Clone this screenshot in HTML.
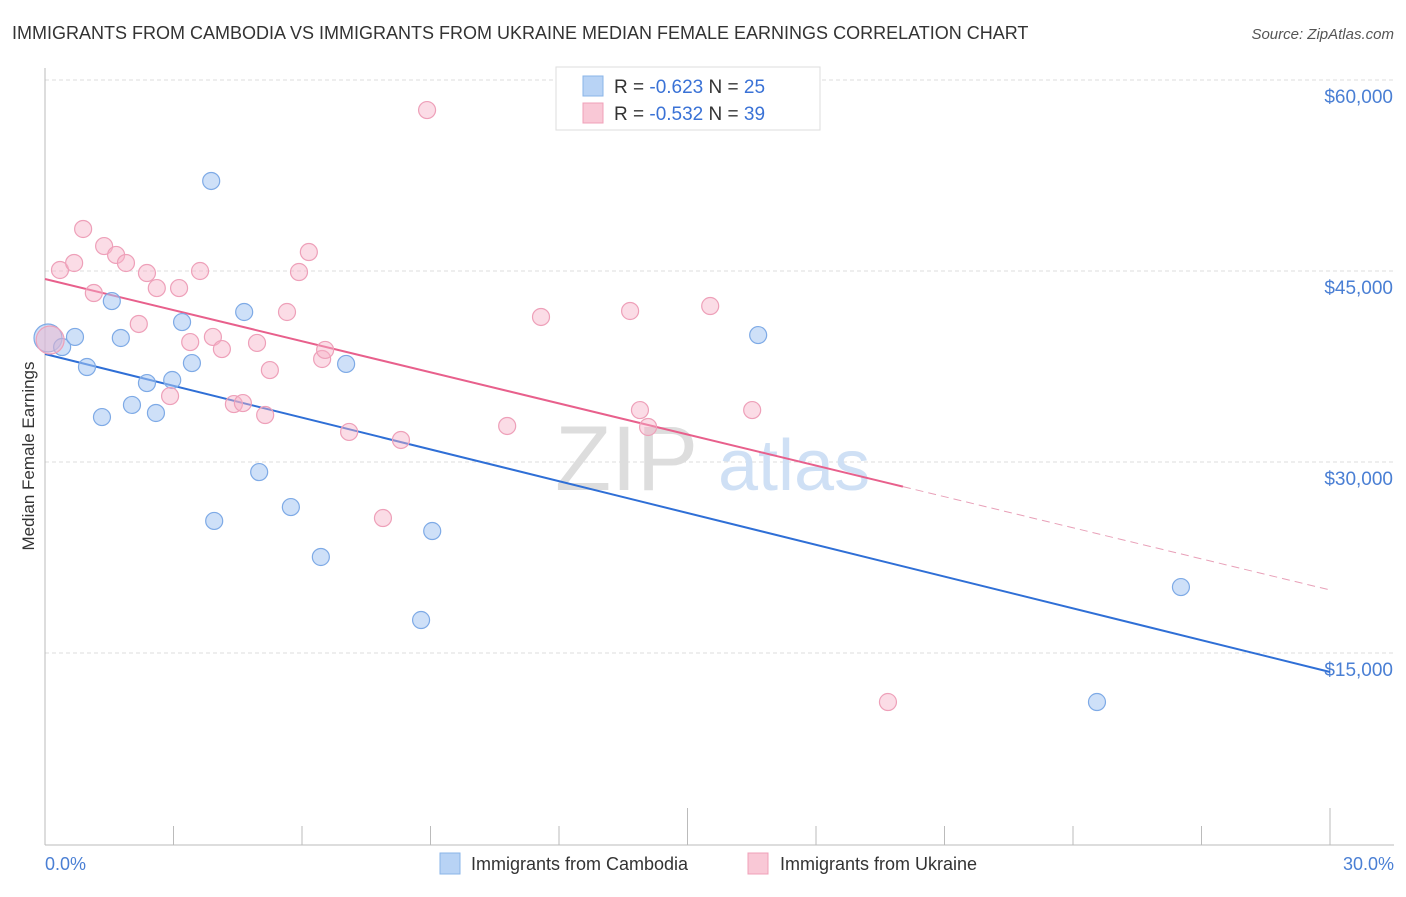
<!DOCTYPE html>
<html><head><meta charset="utf-8"><style>
body{margin:0;background:#fff;font-family:"Liberation Sans",sans-serif;}
svg text{font-family:"Liberation Sans",sans-serif;}
</style></head><body>
<svg id="chart" width="1406" height="892" xmlns="http://www.w3.org/2000/svg">
<text x="12" y="39" font-size="18" fill="#333">IMMIGRANTS FROM CAMBODIA VS IMMIGRANTS FROM UKRAINE MEDIAN FEMALE EARNINGS CORRELATION CHART</text>
<text x="1394" y="39" font-size="15" fill="#555" text-anchor="end" font-style="italic">Source: ZipAtlas.com</text>
<g id="grid"></g>
<g><text x="555" y="490" font-size="92" fill="#ddd" font-family="Liberation Serif">ZIP</text><text x="718" y="490" font-size="72" fill="#cfe0f5">atlas</text></g>
<line x1="45" y1="845" x2="1394" y2="845" stroke="#bbb"/>
<line x1="45" y1="68" x2="45" y2="845" stroke="#bbb"/>
<g id="ticks"></g>
<text transform="translate(34,456) rotate(-90)" font-size="17" fill="#333" text-anchor="middle">Median Female Earnings</text>
<text x="45" y="870" font-size="18" fill="#4a7fd4">0.0%</text>
<text x="1394" y="870" font-size="18" fill="#4a7fd4" text-anchor="end">30.0%</text>
<g id="lines"></g>
<g id="points"></g>
<g>
<rect x="556" y="67" width="264" height="63" fill="#fff" stroke="#ddd"/>
<rect x="583" y="76" width="20" height="20" fill="#b8d3f5" stroke="#8ab4e8"/>
<rect x="583" y="103" width="20" height="20" fill="#f9c8d6" stroke="#f0a0b8"/>
<text x="614" y="93" font-size="19" fill="#333">R = <tspan fill="#3a72d6">-0.623</tspan>   N = <tspan fill="#3a72d6">25</tspan></text>
<text x="614" y="120" font-size="19" fill="#333">R = <tspan fill="#3a72d6">-0.532</tspan>   N = <tspan fill="#3a72d6">39</tspan></text>
</g>
<g>
<rect x="440" y="853" width="20" height="21" fill="#b8d3f5" stroke="#8ab4e8"/>
<text x="471" y="870" font-size="18" fill="#333">Immigrants from Cambodia</text>
<rect x="748" y="853" width="20" height="21" fill="#f9c8d6" stroke="#f0a0b8"/>
<text x="780" y="870" font-size="18" fill="#333">Immigrants from Ukraine</text>
</g>
</svg>
<script>
const yTicks=[15000,30000,45000,60000];
const yTickLabels=["$15,000","$30,000","$45,000","$60,000"];
const xTicks=[0,3,6,9,12,15,18,21,24,27,30];
const cambodiaX=[0.07,0.40,0.70,0.98,1.33,1.56,1.77,2.03,2.38,2.59,2.97,3.20,3.43,3.88,3.95,4.65,5.00,5.74,6.44,7.03,8.78,9.04,16.65,24.56,26.52];
const cambodiaY=[39740,39030,39820,37460,33530,42640,39740,34480,36200,33850,36440,40990,37770,52070,25370,41780,29210,26460,22540,37700,17590,24580,39970,11150,20180];
const ukraineX=[0.12,0.35,0.68,0.89,1.14,1.38,1.66,1.89,2.19,2.38,2.61,2.92,3.13,3.39,3.62,3.92,4.13,4.41,4.62,4.95,5.14,5.25,5.65,5.93,6.16,6.47,6.54,7.10,7.89,8.31,8.92,10.79,11.58,13.66,13.89,14.08,15.53,16.51,19.68];
const ukraineY=[39580,45080,45630,48300,43270,46960,46260,45630,40840,44840,43660,35180,43660,39420,45000,39820,38870,34550,34630,39350,33690,37220,41780,44920,46490,38090,38800,32360,25600,31730,57640,32830,41390,41860,34080,32750,42250,34080,11150];
const cambodiaTrend=[38480,13510];
const ukraineTrend=[44370,19950];
const ukraineSolidEnd=20.03;
const NS="http://www.w3.org/2000/svg";
const xs=v=>45+v*42.833;
const ys=v=>80+(60000-v)*191/15000;
function mk(tag,attrs,parent){const e=document.createElementNS(NS,tag);for(const k in attrs)e.setAttribute(k,attrs[k]);document.getElementById(parent).appendChild(e);return e;}
yTicks.forEach((t,i)=>{
  const g=mk('line',{x1:45,x2:1394,y1:ys(t),y2:ys(t),stroke:'#ddd','stroke-dasharray':'4,3'},'grid');
  
  
  const l=mk('text',{x:1393,y:ys(t)+23,'font-size':19,fill:'#4a7fd4','text-anchor':'end'},'grid');
  l.textContent=yTickLabels[i];
  
  
});
xTicks.forEach((t,i)=>{
  const tall=(t===15||t===30);
  const e=mk('line',{x1:xs(t),x2:xs(t),y1:tall?808:826,y2:845,stroke:'#bbb'},'ticks');
  
  
});
let l1=mk('line',{x1:xs(0),y1:ys(cambodiaTrend[0]),x2:xs(30),y2:ys(cambodiaTrend[1]),stroke:'#2f6fd6','stroke-width':2},'lines');


const uAt=x=>ukraineTrend[0]+(ukraineTrend[1]-ukraineTrend[0])*x/30;
let l2=mk('line',{x1:xs(0),y1:ys(ukraineTrend[0]),x2:xs(ukraineSolidEnd),y2:ys(uAt(ukraineSolidEnd)),stroke:'#e8608c','stroke-width':2},'lines');


let l3=mk('line',{x1:xs(ukraineSolidEnd),y1:ys(uAt(ukraineSolidEnd)),x2:xs(30),y2:ys(ukraineTrend[1]),stroke:'#e8a0b8','stroke-width':1,'stroke-dasharray':'8,5'},'lines');


function pts(X,Y,fill,stroke,name){
  X.forEach((x,i)=>{
    const c=mk('circle',{cx:xs(x),cy:ys(Y[i]),r:i===0?14:8.5,fill:fill,stroke:stroke,'stroke-width':1.2},'points');
    
    
  });
}
pts(cambodiaX,cambodiaY,'rgba(165,198,242,0.55)','#7eaae6','cambodia-point');
pts(ukraineX,ukraineY,'rgba(246,178,200,0.45)','#eea0b9','ukraine-point');
</script>
</body></html>
